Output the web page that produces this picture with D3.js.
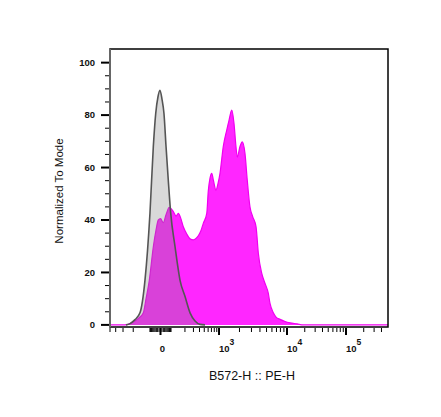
<!DOCTYPE html>
<html>
<head>
<meta charset="utf-8">
<script src="https://cdn.jsdelivr.net/npm/d3@7"></script>
<style>
  body { margin: 0; background: #fff; }
  svg text { font-family: Arial, "Liberation Sans", sans-serif; fill: #111; }
</style>
</head>
<body>
<svg id="histChart"></svg>
<script>
// histogram bins are in display channels (0..256 across the biex axis)
const controlCh    = [14.7, 18.4, 23.0, 27.6, 32.2, 36.8, 39.9, 42.1, 44.2, 46.0, 47.9, 49.7, 51.6, 53.7, 55.9, 59.9, 64.5, 69.1, 73.7, 78.3, 82.9, 87.5];
const controlCount = [0,    0.5,  2,    4.6,  17,   42.6, 68,   80.6, 87,   89.5, 86,   80.6, 68,   55,   42.6, 29.8, 17,   10.8, 4.6,  1.5,  0.2,  0];

const stainedCh    = [0, 13.8, 18.4, 23.0, 27.6, 30.7, 33.2, 36.2, 39.9, 42.4, 44.5, 46.5, 49.1, 51.6, 54.6, 58.3, 60.8, 62.9, 64.9, 67.5, 70.9, 73.7, 76.7, 79.2, 81.3, 83.8, 85.9, 89.1, 90.5, 92.1, 93.7, 95.3, 97.6, 99.5, 101.3, 104.3, 107.5, 109.6, 112.1, 114.2, 116.0, 117.2, 119.7, 121.8, 124.3, 126.4, 128.9, 131.4, 134.5, 136.6, 139.7, 142.7, 145.8, 147.3, 150.4, 152.9, 156.6, 161.2, 165.8, 172.2, 178.0, 256];
const stainedCount = [0, 0,    0.5,  1.5,  3,    4.6,  10,   17,   29.8, 36.2, 40,   40.5, 39,   42,   44.8, 43.2, 41.5, 42.5, 41,   37.4, 34.5, 32.8, 32.4, 33,   34,   36,   38.7, 42.5, 51,   56,   57.8, 55,   51.4, 54,   57.8,  68,    74.3,  78,    81.9,  76.8,  68,    64,    68,    69.8,  65.4,  55.2,  45,    41.3,  37.4,  27.3,  19.7,  15.9,  12,    8.3,   4.6,   3,     2.1,   1.3,   0.8,   0.4,   0,     0];

const yMajorTicks = [0, 20, 40, 60, 80, 100];
const xMajorTicks = [0, 1000, 10000, 100000];
const xTickBase = ["0", "10", "10", "10"];
const xTickExp  = ["", "3", "4", "5"];

const width = 441, height = 417;
const margin = { top: 49, right: 53, bottom: 90, left: 110 };

const svg = d3.select("#histChart").attr("width", width).attr("height", height);

// biexponential display: asinh then piecewise fit to FlowJo's channel layout
const biexT = v => Math.asinh(v / 50);
const chOf = d3.scaleLinear().domain([-500, -100, 100, 1000, 1e4, 1e5].map(biexT)).range([0, 36.8, 56.2, 100.4, 163.0, 217.3]);
const x = d3.scaleLinear().domain([0, 256]).range([margin.left, width - margin.right]);
const xv = v => x(chOf(biexT(v)));
const y = d3.scaleLinear().domain([-0.8, 105.2]).range([height - margin.bottom, margin.top]);

svg.append("clipPath").attr("id", "plotClip").append("rect")
    .attr("x", margin.left).attr("y", margin.top)
    .attr("width", width - margin.left - margin.right).attr("height", height - margin.top - margin.bottom);

const area = d3.area().x(d => x(d[0])).y0(y(0)).y1(d => y(d[1])).curve(d3.curveMonotoneX);
const line = d3.line().x(d => x(d[0])).y(d => y(d[1])).curve(d3.curveMonotoneX);

const stained = d3.zip(stainedCh, stainedCount);
const control = d3.zip(controlCh, controlCount);

const plot = svg.append("g").attr("clip-path", "url(#plotClip)");
plot.append("path").datum(stained).attr("d", area).attr("fill", "#ff00ff").attr("fill-opacity", 0.85);
plot.append("path").datum(stained).attr("d", line).attr("fill", "none").attr("stroke", "#f000f0").attr("stroke-width", 1.2);
plot.append("path").datum(control).attr("d", area).attr("fill", "#808080").attr("fill-opacity", 0.3);
plot.append("path").datum(control).attr("d", line).attr("fill", "none").attr("stroke", "#555").attr("stroke-width", 1.6);

// frame
svg.append("rect").attr("x", margin.left).attr("y", margin.top)
    .attr("width", width - margin.left - margin.right).attr("height", height - margin.top - margin.bottom)
    .attr("fill", "none").attr("stroke", "#000").attr("stroke-width", 1.5);
svg.append("line").attr("x1", margin.left).attr("x2", margin.left).attr("y1", margin.top).attr("y2", height - margin.bottom)
    .attr("stroke", "#666").attr("stroke-width", 2);

// y axis
const yMinor = d3.range(0, 101, 5).filter(v => v % 20 !== 0);
const yAxis = svg.append("g").attr("transform", `translate(${margin.left - 1},0)`);
yAxis.selectAll(".ymaj").data(yMajorTicks).enter().append("line")
    .attr("x1", -8).attr("x2", 0).attr("y1", d => y(d)).attr("y2", d => y(d)).attr("stroke", "#000").attr("stroke-width", 2);
yAxis.selectAll(".ymin").data(yMinor).enter().append("line")
    .attr("x1", -4).attr("x2", 0).attr("y1", d => y(d)).attr("y2", d => y(d)).attr("stroke", "#000").attr("stroke-width", 1);
yAxis.selectAll(".ylab").data(yMajorTicks).enter().append("text")
    .attr("x", -14).attr("y", d => y(d)).attr("dy", "0.35em").attr("text-anchor", "end")
    .style("font-size", "9.5px").style("font-weight", "bold").text(d => d);

// x axis
const xMinor = [].concat(
    d3.range(-500, -100, 100),
    d3.range(-100, 101, 10).filter(v => v !== 0),
    d3.range(200, 1000, 100),
    d3.range(2000, 10000, 1000),
    d3.range(20000, 100000, 10000),
    d3.range(200000, 400001, 100000)
);
const xAxis = svg.append("g").attr("transform", `translate(0,${height - margin.bottom + 1})`);
xAxis.selectAll(".xmin").data(xMinor).enter().append("line")
    .attr("x1", d => xv(d)).attr("x2", d => xv(d)).attr("y1", 0).attr("y2", 4).attr("stroke", "#000").attr("stroke-width", 1);
xAxis.selectAll(".xmaj").data(xMajorTicks).enter().append("line")
    .attr("x1", d => xv(d)).attr("x2", d => xv(d)).attr("y1", 0).attr("y2", 7).attr("stroke", "#000").attr("stroke-width", 2);
const xl = xAxis.selectAll(".xlab").data(xMajorTicks).enter().append("text")
    .attr("x", (d, i) => i === 0 ? xv(d) + 2 : xv(d))
    .attr("y", 24)
    .attr("text-anchor", (d, i) => i === 0 ? "middle" : "start")
    .style("font-size", "9.5px").style("font-weight", "bold");
xl.append("tspan").text((d, i) => xTickBase[i]);
xl.append("tspan").attr("dy", -7).style("font-size", "8.5px").text((d, i) => xTickExp[i]);

// titles
svg.append("text").attr("x", 252).attr("y", 380).attr("text-anchor", "middle")
    .style("font-size", "12.5px").text("B572-H :: PE-H");
svg.append("text").attr("transform", `translate(63,191) rotate(-90)`).attr("text-anchor", "middle")
    .style("font-size", "11.5px").text("Normalized To Mode");
</script>
</body>
</html>
